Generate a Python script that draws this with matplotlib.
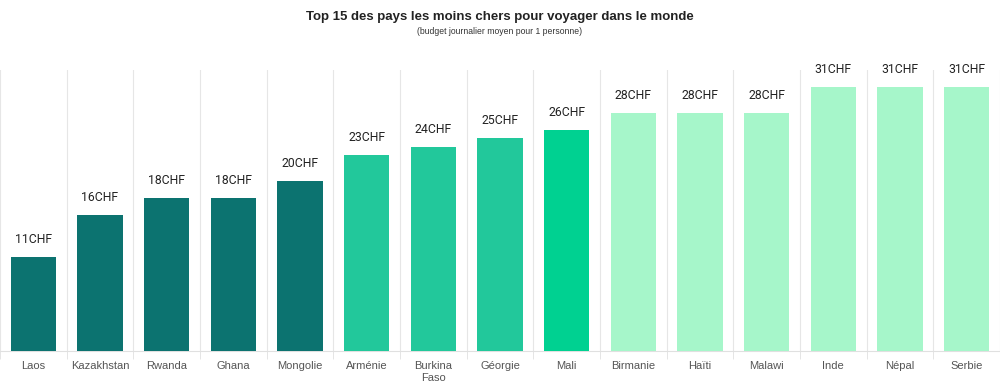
import matplotlib.pyplot as plt
import numpy as np

countries = ['Laos', 'Kazakhstan', 'Rwanda', 'Ghana', 'Mongolie', 'Arménie',
             'Burkina\nFaso', 'Géorgie', 'Mali', 'Birmanie', 'Haïti', 'Malawi',
             'Inde', 'Népal', 'Serbie']
budget = [11, 16, 18, 18, 20, 23, 24, 25, 26, 28, 28, 28, 31, 31, 31]
colors = ['#0c7370'] * 5 + ['#22c89b'] * 3 + ['#00d191'] + ['#a6f6ca'] * 6

plt.rcParams['font.family'] = ['Liberation Sans', 'DejaVu Sans']

fig = plt.figure(figsize=(10, 3.88), dpi=100)
ax = fig.add_axes([0.0, 0.0954, 1.0, 0.724])

x = np.arange(len(countries))
ax.bar(x, budget, width=0.68, color=colors, zorder=3)
for xi, v in zip(x, budget):
    ax.text(xi, v + 1.3, '%dCHF' % v, ha='center', va='bottom', fontsize=8.8,
            color='#222222', family=['Roboto', 'DejaVu Sans'])

ax.set_xlim(-0.5, len(countries) - 0.5)
ax.set_ylim(0, 33)
ax.set_xticks(x)
ax.set_xticklabels(countries, fontsize=8, color='#555555', linespacing=1.3)
ax.set_xticks(np.arange(-0.5, len(countries), 1), minor=True)
ax.tick_params(axis='x', which='major', length=0, pad=7)
ax.tick_params(axis='x', which='minor', length=6, color='#e0e0e0')
ax.grid(True, axis='x', which='minor', color='#e6e6e6', lw=0.8, zorder=0)
ax.set_yticks([])
for s in ['top', 'left', 'right']:
    ax.spines[s].set_visible(False)
ax.spines['bottom'].set_color('#e0e0e0')

fig.text(0.5, 0.955, 'Top 15 des pays les moins chers pour voyager dans le monde',
         ha='center', va='center', fontsize=9.5, fontweight='bold', color='#222222')
fig.text(0.5, 0.92, '(budget journalier moyen pour 1 personne)',
         ha='center', va='center', fontsize=6.2, color='#333333')

plt.savefig('out.png', dpi=100)
